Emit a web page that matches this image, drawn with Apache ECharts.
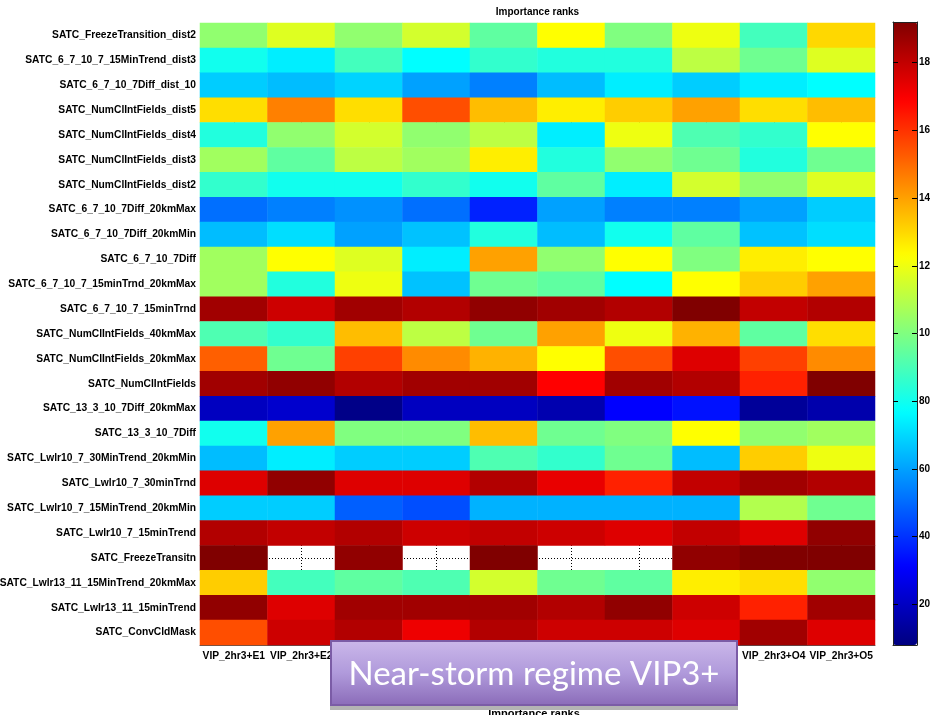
<!DOCTYPE html>
<html>
<head>
<meta charset="utf-8">
<script src="https://cdn.jsdelivr.net/npm/echarts@6/dist/echarts.min.js"></script>
<style>
  html, body { margin: 0; padding: 0; background: #fff; }
  #chart { width: 930px; height: 715px; }
</style>
</head>
<body>
<div id="chart"></div>
<script>
// Predictor names, top to bottom
const rowLabels = [
  'SATC_FreezeTransition_dist2',
  'SATC_6_7_10_7_15MinTrend_dist3',
  'SATC_6_7_10_7Diff_dist_10',
  'SATC_NumClIntFields_dist5',
  'SATC_NumClIntFields_dist4',
  'SATC_NumClIntFields_dist3',
  'SATC_NumClIntFields_dist2',
  'SATC_6_7_10_7Diff_20kmMax',
  'SATC_6_7_10_7Diff_20kmMin',
  'SATC_6_7_10_7Diff',
  'SATC_6_7_10_7_15minTrnd_20kmMax',
  'SATC_6_7_10_7_15minTrnd',
  'SATC_NumClIntFields_40kmMax',
  'SATC_NumClIntFields_20kmMax',
  'SATC_NumClIntFields',
  'SATC_13_3_10_7Diff_20kmMax',
  'SATC_13_3_10_7Diff',
  'SATC_Lwlr10_7_30MinTrend_20kmMin',
  'SATC_Lwlr10_7_30minTrnd',
  'SATC_Lwlr10_7_15MinTrend_20kmMin',
  'SATC_Lwlr10_7_15minTrend',
  'SATC_FreezeTransitn',
  'SATC_Lwlr13_11_15MinTrend_20kmMax',
  'SATC_Lwlr13_11_15minTrend',
  'SATC_ConvCldMask'
];

// Model runs, left to right
const colLabels = [
  'VIP_2hr3+E1', 'VIP_2hr3+E2', 'VIP_2hr3+E3', 'VIP_2hr3+E4', 'VIP_2hr3+E5',
  'VIP_2hr3+O1', 'VIP_2hr3+O2', 'VIP_2hr3+O3', 'VIP_2hr3+O4', 'VIP_2hr3+O5'
];

// Importance rank of each predictor (same order as rowLabels); null = not used
const rankE1 = [10.3, 8.0, 6.8, 12.9, 8.3, 10.6, 8.6, 5.1, 6.5, 10.6, 10.6, 18.6, 9.1, 15.2, 18.6, 1.95, 8.0, 6.5, 17.5, 6.8, 18.3, 19.2, 13.2, 18.9, 15.5];
const rankE2 = [11.7, 7.4, 6.5, 14.6, 10.3, 9.4, 8.0, 5.4, 7.1, 12.3, 8.3, 17.8, 8.6, 9.7, 18.9, 2.2, 14.0, 7.4, 18.9, 6.8, 18.0, null, 8.9, 17.5, 17.8];
const rankE3 = [10.3, 8.9, 6.9, 12.9, 11.5, 11.1, 8.0, 5.7, 6.0, 11.7, 12.0, 18.6, 13.5, 15.75, 18.3, 0.95, 10.0, 6.8, 17.5, 4.8, 18.3, 18.9, 9.4, 18.6, 18.3];
const rankE4 = [11.5, 7.7, 6.0, 15.5, 10.3, 10.6, 8.6, 5.1, 6.6, 7.4, 6.6, 18.3, 11.1, 14.4, 18.6, 1.95, 10.0, 6.8, 17.5, 4.5, 17.8, null, 9.1, 18.6, 17.2];
const rankE5 = [9.4, 8.6, 5.4, 13.5, 11.1, 12.6, 8.0, 3.7, 8.3, 14.0, 9.7, 18.9, 9.7, 13.7, 18.6, 1.95, 13.5, 9.1, 18.3, 6.3, 18.0, 19.2, 11.5, 18.6, 18.3];
const rankO1 = [12.3, 8.3, 6.5, 12.6, 7.4, 8.3, 9.4, 6.0, 6.5, 10.3, 9.4, 18.6, 14.0, 12.3, 16.9, 1.65, 9.7, 8.6, 17.3, 6.3, 17.8, null, 9.7, 18.3, 17.8];
const rankO2 = [10.0, 8.3, 7.4, 13.2, 12.0, 10.3, 7.4, 5.4, 8.0, 12.3, 7.7, 18.3, 12.0, 15.5, 18.6, 3.1, 10.0, 9.7, 16.3, 6.3, 17.5, null, 9.4, 18.9, 17.8];
const rankO3 = [12.0, 11.1, 6.8, 14.0, 9.1, 9.7, 11.5, 5.4, 9.4, 10.0, 12.3, 19.2, 13.7, 17.5, 18.3, 3.4, 12.3, 6.5, 18.0, 6.3, 18.0, 18.9, 12.6, 17.8, 17.5];
const rankO4 = [8.9, 9.7, 7.4, 12.9, 8.6, 8.3, 10.3, 6.0, 6.6, 12.6, 13.2, 18.0, 9.4, 15.75, 16.3, 1.25, 10.3, 13.2, 18.6, 10.9, 17.5, 19.2, 12.9, 16.3, 18.6];
const rankO5 = [13.0, 11.7, 7.7, 13.5, 12.3, 9.7, 11.7, 6.8, 7.1, 12.3, 14.0, 18.3, 12.9, 14.4, 19.2, 1.6, 10.6, 12.0, 18.3, 9.7, 18.9, 19.2, 10.3, 18.6, 17.5];

// Colour bar ticks and their printed labels
const cbTickValues = [2, 4, 6, 8, 10, 12, 14, 16, 18];
const cbTickLabels = ['20', '40', '60', '80', '10', '12', '14', '16', '18'];
const colorMin = 0.8;
const colorMax = 19.2;

// Jet colour map anchors (evenly spaced)
const JET = ['#000080', '#0000ff', '#0080ff', '#00ffff', '#80ff80', '#ffff00', '#ff8000', '#ff0000', '#800000'];

const columns = [rankE1, rankE2, rankE3, rankE4, rankE5, rankO1, rankO2, rankO3, rankO4, rankO5];
const heatData = [];
columns.forEach((col, x) => {
  col.forEach((v, y) => heatData.push([x, y, v == null ? '-' : v]));
});

const FONT = 'Liberation Sans, Arial, sans-serif';
const plot = { left: 200, top: 23, width: 675, height: 622 };
const cbar = { left: 893, top: 22, width: 24, height: 623 };

const chart = echarts.init(document.getElementById('chart'), null, { renderer: 'canvas' });

chart.setOption({
  backgroundColor: '#ffffff',
  animation: false,
  grid: [
    { left: plot.left, top: plot.top, width: plot.width, height: plot.height, containLabel: false, outerBoundsMode: 'none' },
    { left: cbar.left, top: cbar.top, width: cbar.width, height: cbar.height, containLabel: false, outerBoundsMode: 'none' }
  ],
  xAxis: [
    {
      type: 'category', gridIndex: 0, data: colLabels, position: 'bottom',
      axisLine: { show: true, lineStyle: { color: '#555', width: 1 } },
      axisTick: { show: false },
      axisLabel: { interval: 0, color: '#000', fontWeight: 'bold', fontSize: 10.25, fontFamily: FONT, margin: 6 },
      splitLine: { show: true, alignWithLabel: true, lineStyle: { type: [1, 2], color: '#000', width: 1 } }
    },
    {
      type: 'category', gridIndex: 1, data: [''], position: 'bottom', z: 10,
      axisLine: { show: true, lineStyle: { color: '#222', width: 1 } },
      axisTick: { show: false }, axisLabel: { show: false }, splitLine: { show: false }
    },
    {
      type: 'category', gridIndex: 1, data: [''], position: 'top', z: 10,
      axisLine: { show: true, lineStyle: { color: '#222', width: 1 } },
      axisTick: { show: false }, axisLabel: { show: false }, splitLine: { show: false }
    }
  ],
  yAxis: [
    {
      type: 'category', gridIndex: 0, data: rowLabels, inverse: true,
      axisLine: { show: false },
      axisTick: { show: false },
      axisLabel: { interval: 0, color: '#000', fontWeight: 'bold', fontSize: 10.25, fontFamily: FONT, margin: 4 },
      splitLine: { show: true, alignWithLabel: true, lineStyle: { type: [1, 2], color: '#000', width: 1 } }
    },
    {
      type: 'value', gridIndex: 1, min: colorMin, max: colorMax, position: 'right', z: 10,
      axisLine: { show: true, lineStyle: { color: '#222', width: 1 } },
      axisTick: { show: true, inside: true, length: 5, customValues: cbTickValues, lineStyle: { color: '#000' } },
      axisLabel: {
        show: true, customValues: cbTickValues, margin: 2,
        color: '#000', fontWeight: 'bold', fontSize: 10, fontFamily: FONT,
        formatter: (v) => cbTickLabels[cbTickValues.indexOf(Math.round(v))]
      },
      splitLine: { show: false }
    },
    {
      type: 'value', gridIndex: 1, min: colorMin, max: colorMax, position: 'left', z: 10,
      axisLine: { show: true, lineStyle: { color: '#222', width: 1 } },
      axisTick: { show: true, inside: true, length: 5, customValues: cbTickValues, lineStyle: { color: '#000' } },
      axisLabel: { show: false },
      splitLine: { show: false }
    }
  ],
  visualMap: {
    type: 'continuous',
    seriesIndex: 0,
    min: colorMin, max: colorMax,
    calculable: false, hoverLink: false,
    orient: 'vertical',
    left: cbar.left, top: cbar.top,
    itemWidth: cbar.width, itemHeight: cbar.height,
    padding: 0, text: null, z: 1,
    inRange: { color: JET }
  },
  series: [{
    type: 'heatmap',
    xAxisIndex: 0, yAxisIndex: 0,
    data: heatData,
    itemStyle: { borderWidth: 0 },
    emphasis: { disabled: true }
  }],
  graphic: [
    {
      type: 'text', x: plot.left + plot.width / 2, y: 12,
      style: { text: 'Importance ranks', fontFamily: FONT, fontWeight: 'bold', fontSize: 10, fill: '#000',
        textAlign: 'center', textVerticalAlign: 'middle' }
    },
    {
      type: 'text', x: 534, y: 714, z: 20,
      style: { text: 'Importance ranks', fontFamily: FONT, fontWeight: 'bold', fontSize: 11, fill: '#000',
        textAlign: 'center', textVerticalAlign: 'middle' }
    },
    {
      type: 'rect', z: 30,
      shape: { x: 330, y: 706, width: 408, height: 4 },
      style: { fill: '#b4b4b4' }
    },
    {
      type: 'rect', z: 30,
      shape: { x: 331, y: 641, width: 406, height: 64 },
      style: {
        fill: new echarts.graphic.LinearGradient(0, 0, 0, 1, [
          { offset: 0, color: '#cbb8ea' },
          { offset: 0.5, color: '#b09adb' },
          { offset: 1, color: '#8a6bb8' }
        ]),
        stroke: '#7b5ca6', lineWidth: 2
      }
    },
    {
      type: 'text', z: 31, x: 534, y: 674,
      style: {
        text: 'Near-storm regime VIP3+',
        textAlign: 'center', textVerticalAlign: 'middle',
        fontFamily: 'Lato, Open Sans, sans-serif', fontSize: 33, fill: '#ffffff'
      }
    }
  ]
});
</script>
</body>
</html>
